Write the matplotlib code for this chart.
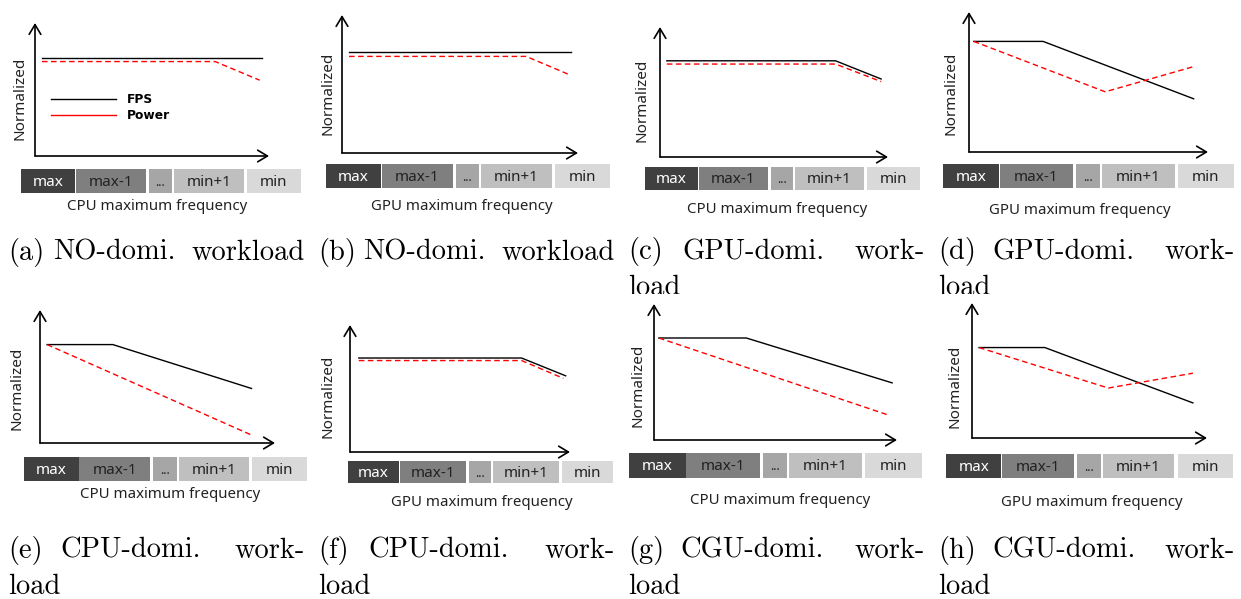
import matplotlib
matplotlib.use("Agg")
import matplotlib.pyplot as plt
from matplotlib.lines import Line2D
from matplotlib.transforms import Bbox, TransformedBbox

W, H = 1241, 599

# frequency levels shown under each x axis
levels = ["max", "max-1", "...", "min+1", "min"]
level_colors = ["#404040", "#7f7f7f", "#a6a6a6", "#bfbfbf", "#d9d9d9"]
level_txt = ["white", "#222222", "#222222", "#222222", "#222222"]

xlabels = ["CPU maximum frequency", "GPU maximum frequency",
           "CPU maximum frequency", "GPU maximum frequency",
           "CPU maximum frequency", "GPU maximum frequency",
           "CPU maximum frequency", "GPU maximum frequency"]

cap_words = [["(a)", "NO-domi.", "workload"], ["(b)", "NO-domi.", "workload"],
             ["(c)", "GPU-domi.", "work-"], ["(d)", "GPU-domi.", "work-"],
             ["(e)", "CPU-domi.", "work-"], ["(f)", "CPU-domi.", "work-"],
             ["(g)", "CGU-domi.", "work-"], ["(h)", "CGU-domi.", "work-"]]
cap_line2 = ["", "", "load", "load", "load", "load", "load", "load"]

# conceptual curves (normalized to axis length)
fps_x = [[0.03, 0.97], [0.03, 0.97], [0.03, 0.77, 0.97], [0.02, 0.31, 0.94],
         [0.03, 0.31, 0.90], [0.04, 0.78, 0.98], [0.02, 0.38, 0.98], [0.03, 0.31, 0.94]]
fps_y = [[0.74, 0.74], [0.73, 0.73], [0.74, 0.74, 0.60], [0.79, 0.79, 0.38],
         [0.74, 0.74, 0.41], [0.74, 0.74, 0.60], [0.75, 0.75, 0.42], [0.67, 0.67, 0.26]]
pow_x = [[0.03, 0.77, 0.96], [0.03, 0.78, 0.96], [0.03, 0.77, 0.97], [0.02, 0.57, 0.94],
         [0.03, 0.90], [0.04, 0.78, 0.97], [0.02, 0.97], [0.03, 0.58, 0.94]]
pow_y = [[0.71, 0.71, 0.57], [0.70, 0.70, 0.57], [0.715, 0.715, 0.58], [0.79, 0.43, 0.61],
         [0.74, 0.06], [0.72, 0.72, 0.58], [0.75, 0.18], [0.67, 0.37, 0.48]]

# layout in pixels
plot_box = [(35, 269, 23, 156), (342, 578, 15, 153), (660, 888, 27, 157), (969, 1208, 12, 152),
            (40, 275, 310, 443), (350, 570, 325, 452), (654, 897, 304, 440), (972, 1207, 303, 438)]
strip_box = [(21, 301, 169, 193), (326, 610, 164, 188), (645, 920, 167, 190), (943, 1234, 164, 188),
             (24, 307, 457, 481), (348, 613, 461, 483), (629, 922, 453, 478), (946, 1233, 454, 478)]
strip_left = [0.0, 0.196, 0.457, 0.546, 0.807]
strip_width = [0.193, 0.25, 0.082, 0.25, 0.193]
xlabel_xy = [(157, 207), (462, 207), (777, 210), (1080, 211),
             (170, 495), (482, 502), (780, 501), (1092, 502)]
ylabel_xy = [(20, 98), (328, 93), (642, 100), (951, 93),
             (17, 388), (328, 396), (638, 385), (955, 386)]
cap_left = [8, 318, 628, 938] * 2
cap_right = [305, 615, 925, 1235] * 2
cap_mid = [45, 45, 54, 54, 52, 50, 52, 54]  # offset of middle word
cap_base = [260, 260, 259, 259, 558, 558, 558, 558]

sans = "Noto Sans"
serif = "cmr10"


def fx(px):
    return px / W


def fy(py):
    return 1 - py / H


fig = plt.figure(figsize=(W / 100, H / 100), dpi=100)

last_words = []
for i in range(8):
    x0, x1, yt, yb = plot_box[i]
    ax = fig.add_axes([fx(x0), fy(yb), (x1 - x0) / W, (yb - yt) / H])
    ax.set_xlim(0, 1)
    ax.set_ylim(0, 1)
    ax.axis("off")
    arrow = dict(arrowstyle="->,head_length=0.5,head_width=0.3", lw=1.2, color="black",
                 mutation_scale=14, shrinkA=0, shrinkB=0)
    ax.annotate("", xy=(1, 0), xytext=(0, 0), xycoords="axes fraction", arrowprops=arrow)
    ax.annotate("", xy=(0, 1), xytext=(0, 0), xycoords="axes fraction", arrowprops=arrow)
    ax.plot(fps_x[i], fps_y[i], color="black", lw=1.0, clip_on=False)
    ax.plot(pow_x[i], pow_y[i], color="#ff0000", lw=1.0, ls=(0, (4, 2.5)), clip_on=False)

    if i == 0:
        handles = [Line2D([], [], color="black", lw=1.0), Line2D([], [], color="#ff0000", lw=1.0)]
        ax.legend(handles, ["FPS", "Power"], loc="upper left", bbox_to_anchor=(0.07, 0.47),
                  frameon=False, handlelength=5.3, handletextpad=0.9, labelspacing=0.2,
                  borderpad=0, borderaxespad=0,
                  prop={"family": "DejaVu Sans", "weight": "bold", "size": 8.8})

    # frequency level strip
    sl, sr, st, sb = strip_box[i]
    sax = fig.add_axes([fx(sl), fy(sb), (sr - sl) / W, (sb - st) / H])
    sax.set_xlim(0, 1)
    sax.set_ylim(0, 1)
    sax.axis("off")
    sax.barh([0.5] * 5, strip_width, left=strip_left, height=1.0, color=level_colors)
    for lab, l, w, c in zip(levels, strip_left, strip_width, level_txt):
        sax.text(l + w / 2, 0.45, lab, ha="center", va="center", color=c,
                 family=sans, fontsize=11 if lab != "..." else 9)

    fig.text(fx(xlabel_xy[i][0]), fy(xlabel_xy[i][1]), xlabels[i], ha="center", va="center",
             family=sans, fontsize=10.8, color="#222222")
    fig.text(fx(ylabel_xy[i][0]), fy(ylabel_xy[i][1]), "Normalized", ha="center", va="center",
             rotation=90, family=sans, fontsize=11, color="#222222")

    # caption, first line justified like the LaTeX subcaption
    w0, w1, w2 = cap_words[i]
    fig.text(fx(cap_left[i]), fy(cap_base[i]), w0, ha="left", va="baseline",
             family=serif, fontsize=20.5)
    fig.text(fx(cap_left[i] + cap_mid[i]), fy(cap_base[i]), w1, ha="left", va="baseline",
             family=serif, fontsize=20.5)
    fig.text(fx(cap_right[i]), fy(cap_base[i]), w2, ha="right", va="baseline",
             family=serif, fontsize=20.5)
    if cap_line2[i]:
        t2 = fig.text(fx(cap_left[i]), fy(cap_base[i] + 36), cap_line2[i], ha="left",
                      va="baseline", family=serif, fontsize=20.5)
        if i < 4:
            # second line of top row is hidden under the lower row
            t2.set_clip_box(TransformedBbox(Bbox([[0, fy(294)], [1, 1]]), fig.transFigure))
            t2.set_clip_on(True)

fig.savefig("out.png", dpi=100, facecolor="white")
